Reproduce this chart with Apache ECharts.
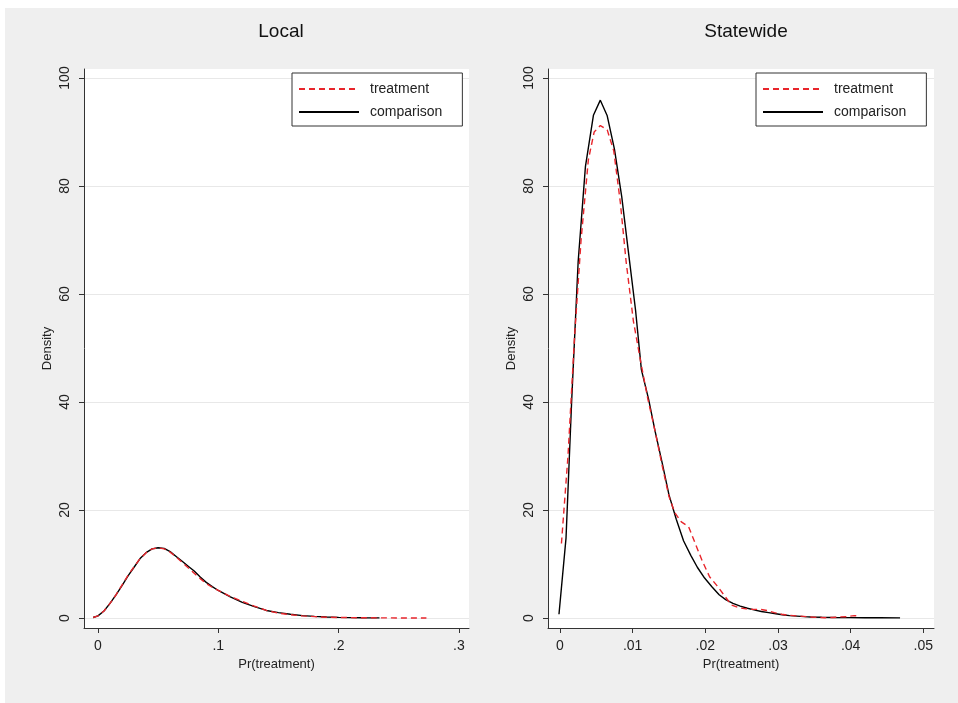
<!DOCTYPE html>
<html><head><meta charset="utf-8">
<script src="https://cdn.jsdelivr.net/npm/echarts@6/dist/echarts.min.js"></script>
<style>html,body{margin:0;padding:0;background:#fff}#c{width:958px;height:703px}</style>
</head><body><div id="c"></div>
<script>
// ---- data ----
var panelTitles = ['Local', 'Statewide'];
var seriesNames = ['treatment', 'comparison'];
var yTicks = [0, 20, 40, 60, 80, 100];
var localXTicks = [0, 0.1, 0.2, 0.3];
var localXTickLabels = ['0', '.1', '.2', '.3'];
var stateXTicks = [0, 0.01, 0.02, 0.03, 0.04, 0.05];
var stateXTickLabels = ['0', '.01', '.02', '.03', '.04', '.05'];

var localCompX = [-0.004,0,0.005,0.01,0.015,0.02,0.025,0.03,0.035,0.04,0.045,0.05,0.055,0.06,0.065,0.07,0.075,0.08,0.085,0.09,0.095,0.1,0.11,0.12,0.13,0.14,0.15,0.16,0.17,0.18,0.19,0.2,0.21,0.22,0.234];
var localCompY = [0.1,0.4,1.3,2.7,4.3,6.0,7.8,9.4,11.0,12.1,12.8,13.0,12.9,12.3,11.4,10.5,9.6,8.7,7.6,6.6,5.8,5.1,3.9,2.9,2.1,1.4,1.0,0.7,0.45,0.3,0.2,0.12,0.07,0.04,0.02];
var localTreatX = [-0.004,0,0.005,0.01,0.015,0.02,0.025,0.03,0.035,0.04,0.045,0.05,0.055,0.06,0.065,0.07,0.075,0.08,0.085,0.09,0.095,0.1,0.11,0.12,0.13,0.14,0.15,0.16,0.17,0.18,0.19,0.2,0.22,0.24,0.26,0.273];
var localTreatY = [0.1,0.4,1.3,2.7,4.3,6.1,7.9,9.5,11.0,12.1,12.8,13.0,12.8,12.2,11.3,10.3,9.3,8.3,7.3,6.4,5.7,5.1,4.0,3.1,2.2,1.4,0.9,0.6,0.4,0.25,0.15,0.1,0.05,0.02,0.01,0.01];

var stateCompX = [-0.00014,0.00083,0.0016,0.0025,0.0035,0.0046,0.00555,0.0065,0.0075,0.0085,0.0094,0.0104,0.0112,0.0122,0.0131,0.0141,0.0150,0.0160,0.0170,0.0180,0.0189,0.0199,0.0209,0.0219,0.0228,0.0238,0.0248,0.0258,0.0267,0.0277,0.0287,0.0297,0.0306,0.0316,0.0326,0.0336,0.0345,0.036,0.038,0.040,0.042,0.044,0.0468];
var stateCompY = [0.7,14.8,40,66,83.6,93.1,95.9,93.0,86.8,78,68,57,46,40.5,34.5,28.5,22.8,18.3,14.3,11.6,9.4,7.4,5.8,4.3,3.4,2.7,2.2,1.8,1.5,1.2,1.0,0.8,0.6,0.45,0.35,0.25,0.2,0.15,0.1,0.07,0.05,0.04,0.03];
var stateTreatX = [0.0002,0.0011,0.0020,0.0029,0.0039,0.0047,0.00555,0.0065,0.0074,0.0083,0.0091,0.0101,0.0111,0.0121,0.0131,0.0141,0.0150,0.0158,0.0167,0.0177,0.0187,0.0196,0.0206,0.0216,0.0226,0.0236,0.0246,0.0256,0.0266,0.0276,0.0285,0.0295,0.0305,0.0315,0.0325,0.0335,0.0345,0.0355,0.0365,0.0375,0.0385,0.0395,0.0405,0.0410];
var stateTreatY = [13.8,30,52,70,84.8,90,91.2,90.4,86.5,77,66,55,47.5,40.5,34.5,28,22.5,19.5,17.8,16.9,13.5,10.5,7.6,6.0,4.2,2.4,1.9,1.7,1.6,1.6,1.4,1.0,0.7,0.5,0.4,0.3,0.2,0.1,0.06,0.1,0.2,0.25,0.45,0.4];

function pairs(xs, ys){ return xs.map(function(x,i){ return [x, ys[i]]; }); }

var FONT = '"Liberation Sans", Arial, sans-serif';
var AX = '#333';
var RED = '#e8252b';

function xAxisFor(idx, min, max, ticks, labels){
  return {
    type:'value', gridIndex: idx, min: min, max: max,
    name: 'Pr(treatment)', nameLocation:'middle', nameGap: 29,
    nameTextStyle:{fontFamily:FONT, fontSize:13, color:'#222'},
    axisLine:{show:true, onZero:false, lineStyle:{color:AX, width:1}},
    axisTick:{show:true, length:5, lineStyle:{color:AX}, customValues: ticks},
    axisLabel:{show:true, fontFamily:FONT, fontSize:14, color:'#222', margin:11,
      customValues: ticks,
      formatter:function(v){ var k = ticks.findIndex(function(t){return Math.abs(t-v)<1e-9;}); return k>=0?labels[k]:''; }},
    splitLine:{show:false}
  };
}
function yAxisFor(idx){
  return {
    type:'value', gridIndex: idx, min: -1.85, max: 101.67,
    name:'Density', nameLocation:'middle', nameGap: 30,
    nameTextStyle:{fontFamily:FONT, fontSize:13, color:'#222'},
    axisLine:{show:true, onZero:false, lineStyle:{color:AX, width:1}},
    axisTick:{show:true, length:5, lineStyle:{color:AX}, customValues: yTicks},
    axisLabel:{show:true, rotate:90, fontFamily:FONT, fontSize:14, color:'#222', margin:12, customValues: yTicks},
    splitLine:{show:true, lineStyle:{color:'#e8e8e8', width:1}}
  };
}
function lineSeries(name, idx, data){
  var isT = name === 'treatment';
  return {
    type:'line', name:name, xAxisIndex:idx, yAxisIndex:idx, data:data,
    showSymbol:false, symbol:'none', smooth:false, animation:false,
    lineStyle:{color: isT ? RED : '#000', width: 1.4, type: isT ? [6,4] : 'solid'},
    itemStyle:{color: isT ? RED : '#000'},
    z: isT ? 3 : 2
  };
}
function legendFor(left){
  return {
    show:true, orient:'vertical', left:left, top:73,
    data: seriesNames, itemWidth:60, itemHeight:14, itemGap:9,
    padding:[9,20,7,6], borderColor:'#333', borderWidth:1, backgroundColor:'#fff',
    selectedMode:false,
    itemStyle:{opacity:0},
    textStyle:{fontFamily:FONT, fontSize:14, color:'#222', padding:[0,0,0,6]}
  };
}

var chart = echarts.init(document.getElementById('c'), null, {renderer:'canvas'});
chart.setOption({
  animation:false,
  backgroundColor:'#fff',
  graphic:[{type:'rect', shape:{x:5, y:8, width:953, height:695}, style:{fill:'#efefef'}, z:-100, silent:true}],
  title:[
    {text:panelTitles[0], left:276, top:17, textAlign:'center', textStyle:{fontFamily:FONT, fontSize:19, fontWeight:'normal', color:'#111'}},
    {text:panelTitles[1], left:741, top:17, textAlign:'center', textStyle:{fontFamily:FONT, fontSize:19, fontWeight:'normal', color:'#111'}}
  ],
  legend:[legendFor(292), legendFor(756)],
  grid:[
    {left:84, top:69, width:385, height:559, show:true, backgroundColor:'#fff', borderWidth:0, containLabel:false},
    {left:548, top:69, width:386, height:559, show:true, backgroundColor:'#fff', borderWidth:0, containLabel:false}
  ],
  xAxis:[
    xAxisFor(0, -0.0116, 0.3084, localXTicks, localXTickLabels),
    xAxisFor(1, -0.00165, 0.05147, stateXTicks, stateXTickLabels)
  ],
  yAxis:[yAxisFor(0), yAxisFor(1)],
  series:[
    lineSeries('comparison', 0, pairs(localCompX, localCompY)),
    lineSeries('treatment', 0, pairs(localTreatX, localTreatY)),
    lineSeries('comparison', 1, pairs(stateCompX, stateCompY)),
    lineSeries('treatment', 1, pairs(stateTreatX, stateTreatY))
  ]
});
</script></body></html>
